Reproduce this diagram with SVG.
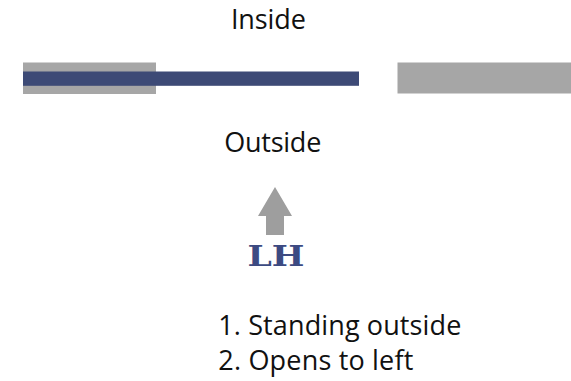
<svg xmlns="http://www.w3.org/2000/svg" width="571" height="381" viewBox="0 0 571 381">
<style>
.t{font-family:"Open Sans","Liberation Sans",sans-serif;font-size:27px;fill:#111}
.wall{fill:#a6a6a6}
</style>
<rect width="571" height="381" fill="#fff"/>
<g id="wall-left"><rect class="wall" x="23" y="62.5" width="133" height="31.5"/></g>
<g id="wall-right"><rect class="wall" x="397.5" y="62.5" width="174" height="31"/></g>
<g id="door"><rect x="23" y="71.5" width="336" height="14.3" fill="#3d4a76"/></g>
<g id="label-inside"><text class="t" x="268.4" y="29.3" text-anchor="middle" textLength="75">Inside</text></g>
<g id="label-outside"><text class="t" x="272.8" y="151.7" text-anchor="middle" textLength="97">Outside</text></g>
<g id="connectors"><polygon points="275,187 292,216 284,216 284,235 266,235 266,216 258,216" fill="#9e9e9e"/></g>
<g id="label-lh"><text x="276" y="266" text-anchor="middle" textLength="57" lengthAdjust="spacingAndGlyphs" font-family="'DejaVu Serif','Liberation Serif',serif" font-size="27" font-weight="bold" fill="#3c4a82">LH</text></g>
<g id="notes">
<text class="t" x="218.3" y="335" textLength="243">1. Standing outside</text>
<text class="t" x="218.3" y="370" textLength="195">2. Opens to left</text>
</g>
</svg>
